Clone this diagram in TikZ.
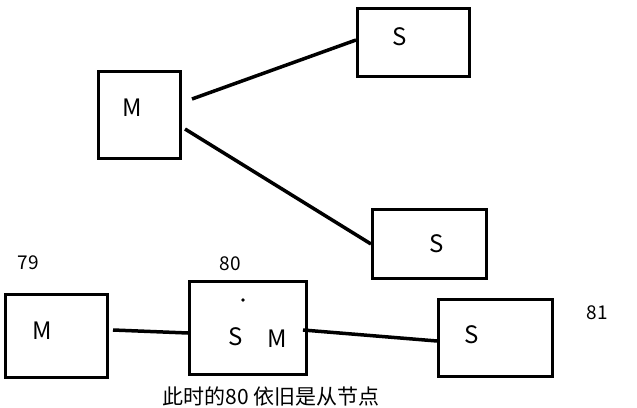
\documentclass[tikz,border=0pt]{standalone}
\usepackage{fontspec}
\setmainfont{Noto Sans CJK SC}
\usetikzlibrary{positioning}
\tikzset{
    box/.style={rectangle,draw,line width=3pt,inner sep=0pt},
    letter/.style={font=\fontsize{24}{26}\selectfont,inner sep=0pt},
    num/.style={font=\fontsize{19}{21}\selectfont,inner sep=0pt},
    link/.style={line width=3.5pt}
}

\begin{document}
\begin{tikzpicture}[x=1pt,y=-1pt]

                \useasboundingbox (0,0) rectangle (637,407);

                \node[box] (m top) [minimum width=82pt,minimum height=87pt]  at (139.5,115)   {};
                \node[box] (s top) [minimum width=112pt,minimum height=68pt] at (413.5,42.5)  {};
                \node[box] (s mid) [minimum width=114pt,minimum height=69pt] at (429.5,244)   {};

                \node[letter] (m top txt) at (132,108) {M};
                \node[letter] (s top txt) at (400,37)  {S};
                \node[letter] (s mid txt) at (437,244) {S};

                \draw[link] ([xshift=10pt,yshift=16pt]m top.east) -- ([yshift=2.5pt]s top.west);
                \draw[link] ([xshift=3pt,yshift=-14pt]m top.east) -- (s mid.west);

                \node[box] (m 79) [minimum width=102pt,minimum height=83pt]  at (56.5,336) {};
                \node[box] (sm 80) [minimum width=117pt,minimum height=93pt] at (248,328)  {};
                \node[box] (s 81) [minimum width=114pt,minimum height=77pt]  at (495.5,338) {};

                \node[num] (lbl 79) at (28,263)  {79};
                \node[num] (lbl 80) at (230,264) {80};
                \node[num] (lbl 81) at (597,313) {81};

                \node[letter] (m 79 txt) at (42,331)  {M};
                \node[letter] (s 80 txt) at (236,337) {S};
                \node[letter] (m 80 txt) at (277,339) {M};
                \node[letter] (s 81 txt) at (472,335) {S};
                \fill (243,300) circle (1.8pt);

                \draw[link] ([xshift=4pt,yshift=6pt]m 79.east) -- ([yshift=-5pt]sm 80.west);
                \draw[link] ([xshift=-5pt,yshift=-2pt]sm 80.east) -- ([yshift=-3pt]s 81.west);

                \node (note) [font=\fontsize{21}{23}\selectfont,inner sep=0pt] at (271,397) {此时的80 依旧是从节点};

            \end{tikzpicture}
\end{document}
